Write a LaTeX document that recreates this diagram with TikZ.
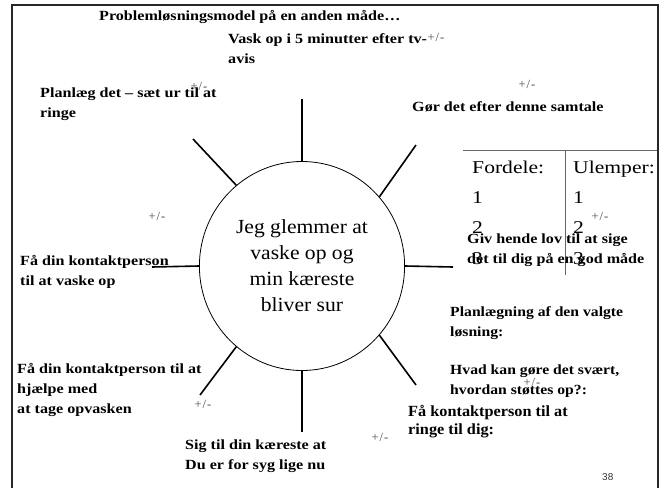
\documentclass[tikz,border=0pt]{standalone}
\usepackage{fontspec}
\setmainfont{Liberation Serif}
\setsansfont{Liberation Sans}
\usetikzlibrary{shapes.geometric}
\begin{document}
\begin{tikzpicture}[x=1pt,y=-1pt,
  % multi-line labels are placed by the baseline of their last line
  lab/.style={font=\fontsize{14}{20}\selectfont\bfseries, xscale=1.15, align=left, anchor=base west, inner sep=0pt},
  bigl/.style={font=\fontsize{15.5}{18}\selectfont\bfseries, xscale=1.05, align=left, anchor=base west, inner sep=0pt},
  plan/.style={font=\fontsize{14}{19.3}\selectfont\bfseries, xscale=1.12, align=left, anchor=base west, inner sep=0pt},
  pm/.style={font=\fontsize{12.5}{12.5}\selectfont, text=black!70, inner sep=0pt},
  tab/.style={font=\fontsize{18}{18}\selectfont, xscale=1.2, anchor=base west, inner sep=0pt},
  spoke/.style={line width=1.6pt, black},
  rule/.style={line width=1pt, black!60},
  core/.style={draw, ellipse, line width=0.8pt, minimum width=190pt, minimum height=209pt, inner sep=0pt,
    align=center, font=\fontsize{20}{26}\selectfont, xscale=1.08}]
\useasboundingbox (0,0) rectangle (670,488);

% slide frame (open at the bottom)
\draw[line width=2pt, black!85] (11.5,488) -- (11.5,4.5) -- (657.5,4.5) -- (657.5,488);

% title
\node[lab] (title) at (99,20) {Problemløsningsmodel på en anden måde…};

% central problem
\node[core] (c) at (302,266) {Jeg glemmer at\\vaske op og\\min kæreste\\bliver sur};

% outer ends of the spokes
\coordinate (sN)  at (302,99);
\coordinate (sS)  at (302,432);
\coordinate (sW)  at (152,267);
\coordinate (sE)  at (453,267);
\coordinate (sNW) at (193,139);
\coordinate (sNE) at (416,145);
\coordinate (sSW) at (200,395);
\coordinate (sSE) at (416,385);

\draw[spoke] (c.90)    -- (sN);
\draw[spoke] (c.270)   -- (sS);
\draw[spoke] (c.180)   -- (sW);
\draw[spoke] (c.0)     -- (sE);
\draw[spoke] (c.127.3) -- (sNW);
\draw[spoke] (c.44.2)  -- (sNE);
\draw[spoke] (c.233.4) -- (sSW);
\draw[spoke] (c.316.2) -- (sSE);

% pros / cons table
\coordinate (tl) at (463,150);
\coordinate (tr) at (657,150);
\coordinate (mt) at (565,150);
\coordinate (mb) at (565,275);
\draw[rule] (tl) -- (tr);
\draw[rule] (mt) -- (mb);
\node[tab] (fordele) at (472,173) {Fordele:};
\node[tab] (ulemper) at (573,173) {Ulemper:};
\node[tab] (f1) at (472,203) {1};
\node[tab] (u1) at (573,203) {1};
\node[tab] (f2) at (472,233) {2};
\node[tab] (u2) at (573,233) {2};
\node[tab] (f3) at (472,264) {3};
\node[tab] (u3) at (573,264) {3};

% solution ideas
\node[lab] (vask) at (228,63) {Vask op i 5 minutter efter tv-\\avis};
\node[lab] (planlaeg) at (40,117) {Planlæg det – sæt ur til at\\ringe};
\node[lab] (goer) at (412,111) {Gør det efter denne samtale};
\node[lab] (kontakt) at (20,285) {Få din kontaktperson\\til at vaske op};
\node[lab] (hjaelp) at (17,413) {Få din kontaktperson til at\\hjælpe med\\at tage opvasken};
\node[lab] (syg) at (185,469) {Sig til din kæreste at\\Du er for syg lige nu};
\node[lab] (giv) at (467,263) {Giv hende lov til at sige\\det til dig på en god måde};
\node[bigl] (ring) at (408,434) {Få kontaktperson til at\\ringe til dig:};

% planning note
\node[plan] (planning) at (450,394) {Planlægning af den valgte\\løsning:\\[19.3pt]Hvad kan gøre det svært,\\hvordan støttes op?:};

% pro/con marks
\node[pm] (pm1) at (436,37)  {+\kern1pt/\kern1pt-};
\node[pm] (pm2) at (527,84)  {+\kern1pt/\kern1pt-};
\node[pm] (pm3) at (199,86)  {+\kern1pt/\kern1pt-};
\node[pm] (pm4) at (157,216) {+\kern1pt/\kern1pt-};
\node[pm] (pm5) at (600,216) {+\kern1pt/\kern1pt-};
\node[pm] (pm6) at (203,404) {+\kern1pt/\kern1pt-};
\node[pm] (pm7) at (532,382) {+\kern1pt/\kern1pt-};
\node[pm] (pm8) at (380,437) {+\kern1pt/\kern1pt-};

% page number
\node[font=\sffamily\fontsize{10}{10}\selectfont, text=black!80, anchor=base west, inner sep=0pt] (page) at (602,480) {38};
\end{tikzpicture}
\end{document}
